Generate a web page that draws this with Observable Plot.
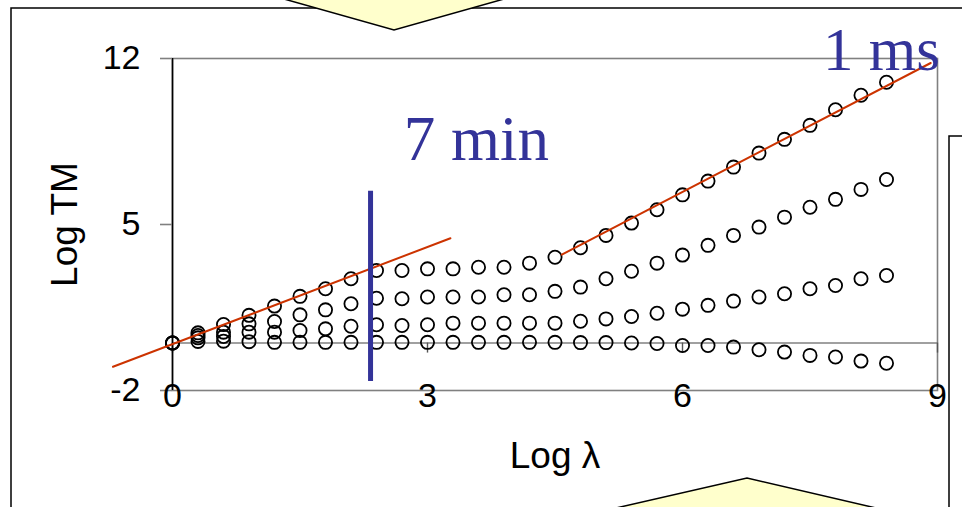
<!DOCTYPE html>
<html>
<head>
<meta charset="utf-8">
<script src="https://cdn.jsdelivr.net/npm/d3@7"></script>
<script src="https://cdn.jsdelivr.net/npm/@observablehq/plot@0.6"></script>
<style>
  html, body { margin: 0; padding: 0; background: white; }
  #wrap { position: relative; width: 962px; height: 507px; overflow: hidden; }
  #wrap > svg { position: absolute; left: 0; top: 0; }
  #deco { pointer-events: none; }
</style>
</head>
<body>
<div id="wrap"></div>
<script>
// ---- data ----
const logLambda = [0, 0.3, 0.6, 0.9, 1.2, 1.5, 1.8, 2.1, 2.4, 2.7, 3.0, 3.3, 3.6, 3.9, 4.2,
                   4.5, 4.8, 5.1, 5.4, 5.7, 6.0, 6.3, 6.6, 6.9, 7.2, 7.5, 7.8, 8.1, 8.4];
const seriesA = [0, 0.43, 0.78, 1.17, 1.56, 1.97, 2.29, 2.71, 3.06, 3.06, 3.13, 3.13, 3.2, 3.2, 3.37,
                 3.62, 4.02, 4.54, 5.06, 5.62, 6.25, 6.83, 7.42, 8.01, 8.59, 9.18, 9.84, 10.45, 11.0];
const seriesB = [0, 0.32, 0.46, 0.81, 0.91, 1.19, 1.4, 1.66, 1.89, 1.87, 1.94, 1.94, 1.94, 2.04, 2.04,
                 2.18, 2.36, 2.71, 3.03, 3.37, 3.71, 4.12, 4.54, 4.89, 5.31, 5.73, 6.06, 6.48, 6.9];
const seriesC = [0, 0.22, 0.28, 0.46, 0.46, 0.53, 0.6, 0.71, 0.77, 0.74, 0.77, 0.84, 0.84, 0.84, 0.84,
                 0.84, 0.92, 1.02, 1.12, 1.26, 1.43, 1.59, 1.77, 1.94, 2.08, 2.29, 2.43, 2.71, 2.85];
const seriesD = [0, 0.07, 0.08, 0.06, 0.03, 0.03, 0.03, 0.03, 0.03, 0.03, 0.03, 0.03, 0.03, 0.03, 0.03,
                 0.03, 0.02, 0.02, 0.0, -0.02, -0.1, -0.1, -0.17, -0.28, -0.38, -0.52, -0.59, -0.76, -0.85];

const xTicks = [0, 3, 6, 9];
const yTicks = [-2, 5, 12];

// fitted power-law lines (red)
const fitLow  = [{x: -0.7, y: -1.0}, {x: 3.27, y: 4.42}];
const fitHigh = [{x: 4.58, y: 3.73}, {x: 8.92, y: 11.81}];
// 7 min marker (blue)
const marker = {x: 2.33, y1: -1.62, y2: 6.4};
const noteLeft  = {label: "7 min", x: 2.72, y: 7.7};
const noteRight = {label: "1 ms",  x: 9.03, y: 11.5};
const xLabel = "Log λ";
const yLabel = "Log TM";

// ---- build ----
const table = [seriesA, seriesB, seriesC, seriesD].flatMap((s, k) =>
  s.map((v, i) => ({series: k, x: logLambda[i], y: v})));

const W = 962, H = 507, mt = 58, mb = 117, ml = 172, mr = 25;
const pxPerUnitY = (H - mt - mb) / 14;
const tickLen = 10 / pxPerUnitY;

const sans = "'Liberation Sans', Arial, Helvetica, sans-serif";
const serif = "'Liberation Serif', 'Times New Roman', Times, serif";

const chart = Plot.plot({
  width: W, height: H,
  marginLeft: ml, marginRight: mr, marginTop: mt, marginBottom: mb,
  style: {fontFamily: sans, background: "transparent", overflow: "visible"},
  x: {domain: [0, 9]},
  y: {domain: [-2, 12]},
  marks: [
    Plot.frame({stroke: "#808080", strokeWidth: 1.6}),
    Plot.ruleY([0], {stroke: "#808080", strokeWidth: 1.6}),
    Plot.ruleX(xTicks, {x: d => d, y1: 0, y2: -tickLen, stroke: "#555", strokeWidth: 1.4}),
    Plot.ruleX([0], {stroke: "black", strokeWidth: 1.6}),
    Plot.axisY({ticks: yTicks, tickSize: 12, text: null, stroke: "#808080", strokeWidth: 1.6, label: null}),
    Plot.axisX({ticks: [], label: null}),
    Plot.text(yTicks, {x: 0, y: d => d, text: d => String(d), dx: -32, textAnchor: "end",
                       fontSize: 34, fill: "black"}),
    Plot.text(xTicks, {x: d => d, y: -2, text: d => String(d), dy: -8, lineAnchor: "top",
                       fontSize: 34, fill: "black"}),
    Plot.text([xLabel], {frameAnchor: "bottom", dy: 77, textAnchor: "middle", lineAnchor: "bottom",
                         fontSize: 37, fill: "black"}),
    Plot.text([yLabel], {frameAnchor: "left", dx: -96, rotate: -90, textAnchor: "middle",
                         lineAnchor: "bottom", fontSize: 37, fill: "black"}),
    Plot.dot(table, {x: "x", y: "y", r: 6.6, stroke: "black", strokeWidth: 1.8, fill: "none"}),
    Plot.line(fitLow, {x: "x", y: "y", stroke: "#cc3300", strokeWidth: 2}),
    Plot.line(fitHigh, {x: "x", y: "y", stroke: "#cc3300", strokeWidth: 2}),
    Plot.ruleX([marker], {x: "x", y1: "y1", y2: "y2", stroke: "#333399", strokeWidth: 5}),
    Plot.text([noteLeft], {x: "x", y: "y", text: "label", textAnchor: "start", lineAnchor: "bottom",
                           fontFamily: serif, fontSize: 63, fill: "#333399"}),
    Plot.text([noteRight], {x: "x", y: "y", text: "label", textAnchor: "end", lineAnchor: "bottom",
                            fontFamily: serif, fontSize: 61, fill: "#333399"})
  ]
});
document.getElementById("wrap").appendChild(chart);

// ---- slide decorations (not chart data) ----
const deco = d3.select("#wrap").append("svg").attr("id", "deco")
  .attr("width", W).attr("height", H);
deco.append("path").attr("d", "M11,507 V8 H962").attr("fill", "none").attr("stroke", "black").attr("stroke-width", 1.5);
deco.append("path").attr("d", "M949,507 V136 H962").attr("fill", "none").attr("stroke", "black").attr("stroke-width", 1.5);
deco.append("path").attr("d", "M284,-1 L394,30 L504,-1 Z").attr("fill", "#ffffcc").attr("stroke", "black").attr("stroke-width", 1.5);
deco.append("path").attr("d", "M616,508 L747,478 L876,508 Z").attr("fill", "#ffffcc").attr("stroke", "black").attr("stroke-width", 1.5);
</script>
</body>
</html>
